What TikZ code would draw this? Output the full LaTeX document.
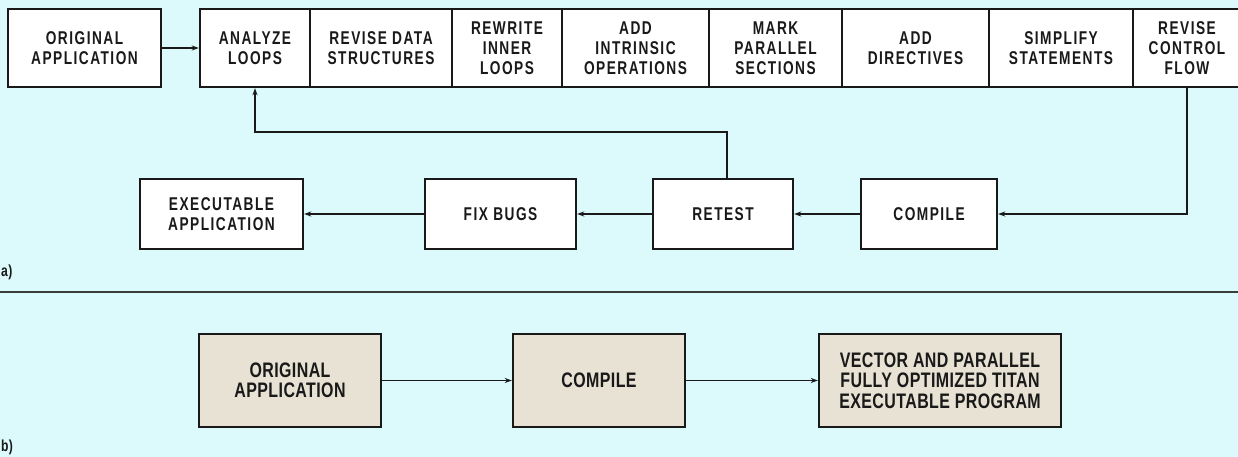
\documentclass[tikz,border=0pt]{standalone}
\usepackage{fontspec}
\usetikzlibrary{arrows.meta}
\newfontfamily\topf[FakeStretch=0.74,LetterSpace=8]{Liberation Sans}
\newfontfamily\botf[FakeStretch=0.76,LetterSpace=2]{Liberation Sans}
\definecolor{bg}{RGB}{220,250,252}
\definecolor{beige}{RGB}{232,226,212}
\definecolor{ink}{RGB}{25,25,25}
\tikzset{
  box/.style={draw=ink, line width=2.4pt, fill=white, inner sep=0pt, align=center,
    font=\topf\bfseries\fontsize{18.5}{20}\selectfont, text=ink},
  bbox/.style={box, fill=beige, font=\botf\bfseries\fontsize{21}{20.5}\selectfont},
  arr/.style={draw=ink, line width=1.3pt, -{Stealth[length=7pt,width=5pt]}},
  lbl/.style={font=\botf\bfseries\fontsize{16}{18}\selectfont, text=ink, anchor=west, inner sep=0pt}
}
\begin{document}
\begin{tikzpicture}[x=1pt,y=-1pt]
\useasboundingbox[fill=bg] (0,0) rectangle (1238,457);
% top row
\node[box, minimum width=153, minimum height=78] (orig) at (84.5,48) {ORIGINAL\\APPLICATION};
\node[box, minimum width=110, minimum height=78] (analyze) at (255,48) {ANALYZE\\LOOPS};
\node[box, minimum width=142, minimum height=78] (revdata) at (381,48) {REVISE DATA\\STRUCTURES};
\node[box, minimum width=110, minimum height=78] (rewrite) at (507,48) {REWRITE\\INNER\\LOOPS};
\node[box, minimum width=147, minimum height=78] (intrinsic) at (635.5,48) {ADD\\INTRINSIC\\OPERATIONS};
\node[box, minimum width=133, minimum height=78] (mark) at (775.5,48) {MARK\\PARALLEL\\SECTIONS};
\node[box, minimum width=147, minimum height=78] (direct) at (915.5,48) {ADD\\DIRECTIVES};
\node[box, minimum width=144, minimum height=78] (simplify) at (1061,48) {SIMPLIFY\\STATEMENTS};
\node[box, minimum width=108, minimum height=78] (rcf) at (1187,48) {REVISE\\CONTROL\\FLOW};
% second row
\node[box, minimum width=163, minimum height=70] (exec) at (221.5,214) {EXECUTABLE\\APPLICATION};
\node[box, minimum width=151, minimum height=70] (fix) at (500.5,214) {FIX BUGS};
\node[box, minimum width=140, minimum height=70] (retest) at (723,214) {RETEST};
\node[box, minimum width=136, minimum height=70] (compile) at (929,214) {COMPILE};
% connectors (a)
\draw[arr] (orig) -- (analyze);
\draw[arr] (rcf.south) |- (compile.east);
\draw[arr] (compile) -- (retest);
\draw[arr] (retest) -- (fix);
\draw[arr] (fix) -- (exec);
\coordinate (turn) at (727,132);
\draw[arr] (turn |- retest.north) -- (turn) -| (analyze.south);
\node[lbl] (la) at (1,272) {a)};
% separator
\coordinate (sepL) at (0,292);
\coordinate (sepR) at (1238,292);
\draw[draw=ink!85, line width=1.8pt] (sepL) -- (sepR);
% part (b)
\node[bbox, minimum width=182, minimum height=93] (borig) at (290,380.5) {ORIGINAL\\APPLICATION};
\node[bbox, minimum width=172, minimum height=93] (bcomp) at (599,380.5) {COMPILE};
\node[bbox, minimum width=242, minimum height=93] (bvec) at (940,380.5) {VECTOR AND PARALLEL\\FULLY OPTIMIZED TITAN\\EXECUTABLE PROGRAM};
\draw[arr] (borig) -- (bcomp);
\draw[arr] (bcomp) -- (bvec);
\node[lbl] (lb) at (1,447) {b)};
\end{tikzpicture}
\end{document}
